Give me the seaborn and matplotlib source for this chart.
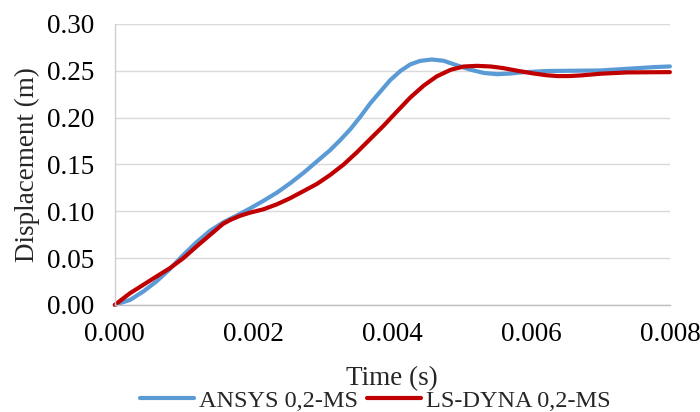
import matplotlib
matplotlib.use("Agg")
import matplotlib.pyplot as plt
import matplotlib.ticker as mticker
import pandas as pd
import seaborn as sns

# Displacement histories from the two solvers
ansys_time = [0.0, 0.00022, 0.00041, 0.00060, 0.00079, 0.00099, 0.00118, 0.00137,
              0.00156, 0.00176, 0.00195, 0.00214, 0.00234, 0.00253, 0.00272, 0.00291,
              0.00310, 0.00325, 0.00340, 0.00354, 0.00368, 0.00383, 0.00397, 0.00412,
              0.00426, 0.00440, 0.00457, 0.00474, 0.00493, 0.00513, 0.00532, 0.00551,
              0.00570, 0.00585, 0.00623, 0.00662, 0.00700, 0.00739, 0.00778, 0.00800]
ansys_disp = [0.0, 0.0053, 0.0143, 0.0250, 0.0380, 0.0535, 0.0670, 0.0790,
              0.0880, 0.0955, 0.1030, 0.1110, 0.1200, 0.1300, 0.1410, 0.1530,
              0.1650, 0.1760, 0.1880, 0.2010, 0.2150, 0.2280, 0.2400, 0.2500,
              0.2568, 0.2605, 0.2620, 0.2606, 0.2558, 0.2510, 0.2476, 0.2463,
              0.2470, 0.2482, 0.2497, 0.2500, 0.2503, 0.2521, 0.2539, 0.2546]

lsdyna_time = [0.0, 0.00022, 0.00041, 0.00060, 0.00079, 0.00099, 0.00118, 0.00137,
               0.00156, 0.00166, 0.00180, 0.00195, 0.00214, 0.00234, 0.00253, 0.00272,
               0.00291, 0.00310, 0.00330, 0.00349, 0.00368, 0.00387, 0.00406, 0.00426,
               0.00445, 0.00464, 0.00484, 0.00503, 0.00522, 0.00542, 0.00560, 0.00580,
               0.00604, 0.00622, 0.00638, 0.00655, 0.00672, 0.00700, 0.00739, 0.00800]
lsdyna_disp = [0.0, 0.0125, 0.0214, 0.0303, 0.0390, 0.0500, 0.0625, 0.0745,
               0.0865, 0.0905, 0.0950, 0.0985, 0.1020, 0.1075, 0.1140, 0.1215,
               0.1290, 0.1385, 0.1500, 0.1630, 0.1770, 0.1910, 0.2060, 0.2215,
               0.2340, 0.2440, 0.2510, 0.2545, 0.2552, 0.2545, 0.2528, 0.2500,
               0.2470, 0.2452, 0.2443, 0.2443, 0.2450, 0.2468, 0.2482, 0.2485]

series_names = ["ANSYS 0,2-MS", "LS-DYNA 0,2-MS"]
series_colors = ["#5B9BD5", "#C00000"]
x_ticks = [0.000, 0.002, 0.004, 0.006, 0.008]
y_ticks = [0.00, 0.05, 0.10, 0.15, 0.20, 0.25, 0.30]

df = pd.concat([
    pd.DataFrame({"Time": ansys_time, "Disp": ansys_disp, "Series": series_names[0]}),
    pd.DataFrame({"Time": lsdyna_time, "Disp": lsdyna_disp, "Series": series_names[1]}),
], ignore_index=True)

sns.set_style("white")
plt.rcParams["font.family"] = ["Liberation Serif", "DejaVu Serif"]

fig = plt.figure(figsize=(7.0, 4.12), dpi=100)
ax = fig.add_axes([0.164, 0.26, 0.793, 0.682])

sns.lineplot(data=df, x="Time", y="Disp", hue="Series", hue_order=series_names,
             palette=series_colors, linewidth=3.0, ax=ax, legend=False)
for ln in ax.lines:
    ln.set_solid_capstyle("round")
    ln.set_solid_joinstyle("round")
    ln.set_clip_on(False)

ax.set_xlim(0, 0.008)
ax.set_ylim(0, 0.30)
ax.set_xticks(x_ticks)
ax.set_yticks(y_ticks)
ax.xaxis.set_major_formatter(mticker.FormatStrFormatter("%.3f"))
ax.yaxis.set_major_formatter(mticker.FormatStrFormatter("%.2f"))
ax.tick_params(axis="both", length=0, labelsize=19.5, colors="black")
ax.tick_params(axis="x", pad=12)
ax.tick_params(axis="y", pad=15)

ax.grid(axis="y", color="#d9d9d9", linewidth=1.0)
ax.set_axisbelow(True)
for side in ("top", "right"):
    ax.spines[side].set_visible(False)
ax.spines["left"].set_color("#d0d0d0")
ax.spines["left"].set_linewidth(1.0)
ax.spines["bottom"].set_color("#bfbfbf")
ax.spines["bottom"].set_linewidth(1.0)

ax.set_xlabel("Time (s)", fontsize=19.5, labelpad=14)
ax.set_ylabel("Displacement (m)", fontsize=19.5, labelpad=5)

handles = [plt.Line2D([], [], color=c, linewidth=3.0) for c in series_colors]
fig.legend(handles, series_names, loc="center", bbox_to_anchor=(0.536, 0.027),
           ncol=2, frameon=False, fontsize=17.5, handlelength=2.2,
           handletextpad=0.2, columnspacing=0.4, borderaxespad=0, borderpad=0)

fig.savefig("out.png", dpi=100, facecolor="white")
